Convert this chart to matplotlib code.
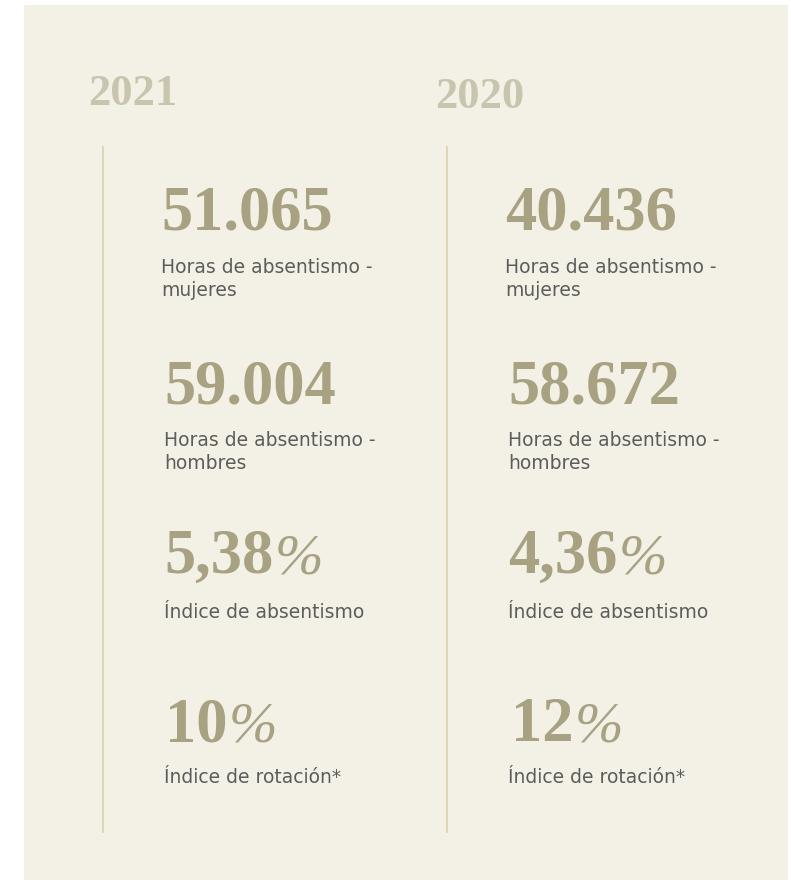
import matplotlib
matplotlib.use("Agg")
import matplotlib.pyplot as plt
from matplotlib.patches import Rectangle

# data
years = ["2021", "2020"]
values_2021 = ["51.065", "59.004", "5,38%", "10%"]
values_2020 = ["40.436", "58.672", "4,36%", "12%"]
labels = [["Horas de absentismo -", "mujeres"],
          ["Horas de absentismo -", "hombres"],
          ["Índice de absentismo"],
          ["Índice de rotación*"]]

# layout (pixels)
BG = "#F3F1E6"
NUM_COLOR = "#A8A283"
YEAR_COLOR = "#C9C4AD"
LINE_COLOR = "#D9D1AB"
TEXT_COLOR = "#5C5C5C"

year_x = [88, 435]
year_y = [105, 108]
line_x = [103, 447]
num_x = [[161, 164, 164, 165], [505, 508, 508, 511]]
lab_x = [[161, 164, 164, 164], [505, 508, 508, 508]]
num_base = [230, 403, 573, 741]
lab_base = [273, 446, 618, 783]
LINE_GAP = 23

fig = plt.figure(figsize=(7.91, 8.8), dpi=100)
fig.patch.set_facecolor("white")
ax = fig.add_axes([0, 0, 1, 1])
ax.set_xlim(0, 791)
ax.set_ylim(880, 0)
ax.axis("off")

ax.add_patch(Rectangle((24, 5), 764, 880, facecolor=BG, edgecolor="none"))
renderer = fig.canvas.get_renderer()

columns = [values_2021, values_2020]
for c in range(2):
    ax.text(year_x[c], year_y[c], years[c], fontsize=32, fontweight="bold",
            family="Liberation Serif", color=YEAR_COLOR, ha="left", va="baseline")
    ax.plot([line_x[c], line_x[c]], [147, 832], color=LINE_COLOR, lw=1.2)
    for r in range(4):
        val = columns[c][r]
        pct = val.endswith("%")
        main = val[:-1] if pct else val
        t = ax.text(num_x[c][r], num_base[r], main, fontsize=45, fontweight="bold",
                    family="Liberation Serif", color=NUM_COLOR, ha="left", va="baseline")
        if pct:
            bb = t.get_window_extent(renderer)
            x_end = ax.transData.inverted().transform((bb.x1, bb.y0))[0]
            ax.text(x_end + 1, num_base[r], "%", fontsize=42, fontstyle="italic",
                    family="Liberation Serif", color=NUM_COLOR, ha="left", va="baseline")
        for k, line in enumerate(labels[r]):
            ax.text(lab_x[c][r], lab_base[r] + k * LINE_GAP, line, fontsize=13.5,
                    family="DejaVu Sans", color=TEXT_COLOR, ha="left", va="baseline")

fig.savefig("out.png", dpi=100, facecolor=fig.get_facecolor())
